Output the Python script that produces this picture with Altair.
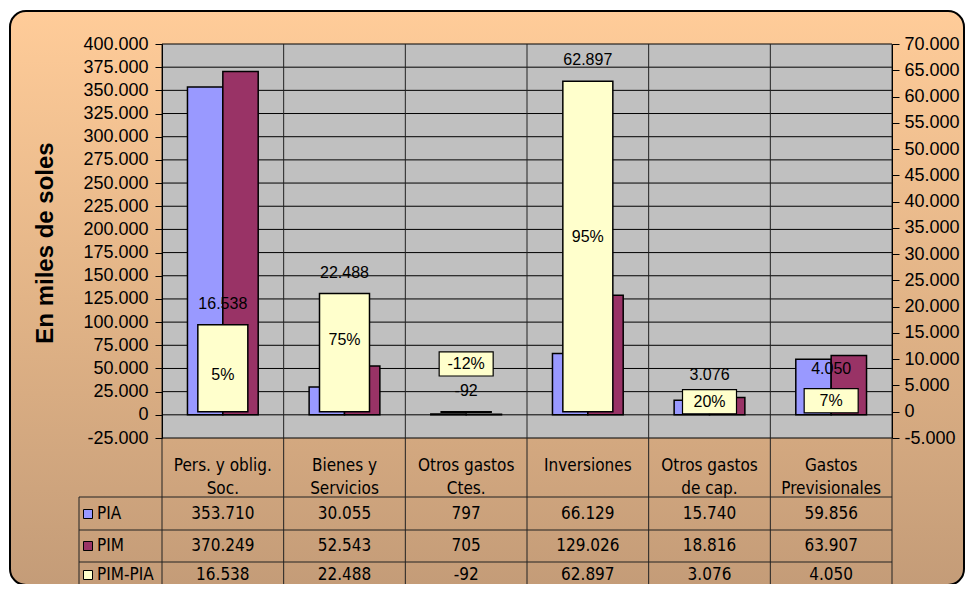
import altair as alt
import pandas as pd

# ---------------- data ----------------
categories = ["Pers. y oblig.\nSoc.", "Bienes y\nServicios", "Otros gastos\nCtes.",
              "Inversiones", "Otros gastos\nde cap.", "Gastos\nPrevisionales"]
pia = [353710, 30055, 797, 66129, 15740, 59856]
pim = [370249, 52543, 705, 129026, 18816, 63907]
diff = [16538, 22488, -92, 62897, 3076, 4050]          # PIM-PIA (secondary axis)
pct = [5, 75, -12, 95, 20, 7]                          # PIM-PIA as % of PIA
pct_at = [7000, 13700, 9100, 33300, 1900, 2100]        # where the % label sits (secondary units)
series_names = ["PIA", "PIM", "PIM-PIA"]
series_colors = ["#9999FF", "#993366", "#FFFFCC"]
left_ticks = list(range(-25000, 400001, 25000))
right_ticks = list(range(-5000, 70001, 5000))
axis_title = "En miles de soles"


def fmt(v):
    return f"{v:,}".replace(",", ".")


W, H = 730, 394
FONT = "Liberation Sans, Arial, sans-serif"
NARROW = "Liberation Sans Narrow, Arial Narrow, DejaVu Sans Condensed, Liberation Sans"

df = pd.DataFrame({"cat": categories, "PIA": pia, "PIM": pim, "diff": diff,
                   "pct": pct, "pct_at": pct_at})
df["pia_txt"] = [fmt(v) for v in pia]
df["pim_txt"] = [fmt(v) for v in pim]
df["diff_txt"] = [fmt(v) for v in diff]
df["pct_txt"] = [f"{p}%" for p in pct]
long = df.melt(id_vars=["cat"], value_vars=["PIA", "PIM"], var_name="series", value_name="value")

xs = alt.Scale(type="band", domain=categories, paddingInner=0, paddingOuter=0)
yL = alt.Scale(domain=[-25000, 400000], nice=False)
yR = alt.Scale(domain=[-5000, 70000], nice=False)
label_expr = "replace(replace(format(datum.value, ','), ',', '.'), '\u2212', '-')"

axis_common = dict(title=None, grid=False, tickSize=7, tickColor="black", tickWidth=1,
                   domainColor="black", domainWidth=1, labelFont=FONT, labelFontSize=18,
                   labelColor="black", labelOverlap=False, labelFlush=False, zindex=1,
                   labelExpr=label_expr)
left_axis = alt.Axis(orient="left", values=left_ticks, labelPadding=7, **axis_common)
right_axis = alt.Axis(orient="right", values=right_ticks, labelPadding=5, **axis_common)

X = alt.X("cat:N", scale=xs, axis=None)
one = pd.DataFrame({"a": [0]})
TB = 541  # bottom of the box / table (plot pixels)

# background box with gradient
bg = alt.Chart(one).mark_rect(
    cornerRadius=16, stroke="black", strokeWidth=2,
    fill=alt.Gradient(gradient="linear", x1=0, y1=0, x2=0, y2=1,
                      stops=[alt.GradientStop(color="#FFCC99", offset=0),
                             alt.GradientStop(color="#E2B487", offset=0.5),
                             alt.GradientStop(color="#C49C78", offset=1)])
).encode(x=alt.value(-152), x2=alt.value(802), y=alt.value(-33), y2=alt.value(TB))

plot_bg = alt.Chart(one).mark_rect(fill="#C0C0C0").encode(
    x=alt.value(0), x2=alt.value(W), y=alt.value(0), y2=alt.value(H))

hgrid = alt.Chart(pd.DataFrame({"t": left_ticks})).mark_rule(color="#000000", strokeWidth=1).encode(
    y=alt.Y("t:Q", scale=yL, axis=None), x=alt.value(0), x2=alt.value(W))

vgrid = alt.Chart(df).mark_rule(color="#222222", strokeWidth=1).encode(
    x=alt.X("cat:N", scale=xs, axis=None, bandPosition=0), y=alt.value(0), y2=alt.value(TB))
vright = alt.Chart(one).mark_rule(color="#222222", strokeWidth=1).encode(
    x=alt.value(W), y=alt.value(0), y2=alt.value(TB))

bars = alt.Chart(long).mark_bar(stroke="black", strokeWidth=1.5).encode(
    x=X,
    xOffset=alt.XOffset("series:N", scale=alt.Scale(domain=["PIA", "PIM"], paddingInner=0, paddingOuter=0.72)),
    y=alt.Y("value:Q", scale=yL, axis=left_axis),
    y2=alt.datum(0),
    color=alt.Color("series:N", scale=alt.Scale(domain=series_names[:2], range=series_colors[:2]), legend=None),
)

ybars = alt.Chart(df).mark_bar(size=50, fill=series_colors[2], stroke="black", strokeWidth=1.5).encode(
    x=X, y=alt.Y("diff:Q", scale=yR, axis=right_axis), y2=alt.datum(0))

val_labels = alt.Chart(df).transform_calculate(ytop="max(datum.diff, 0)").mark_text(
    font=FONT, fontSize=16, color="black", dy=-21, baseline="middle").encode(
    x=X, y=alt.Y("ytop:Q", scale=yR, axis=None), text="diff_txt:N")

pct_boxes = alt.Chart(df).transform_filter("abs(datum.diff) < 5000").transform_calculate(
    b0="datum.pct_at - 2300", b1="datum.pct_at + 2300").mark_bar(
    size=54, fill=series_colors[2], stroke="black", strokeWidth=1.2).encode(
    x=X, y=alt.Y("b0:Q", scale=yR, axis=None), y2="b1:Q")

pct_labels = alt.Chart(df).mark_text(font=FONT, fontSize=16, color="black", baseline="middle").encode(
    x=X, y=alt.Y("pct_at:Q", scale=yR, axis=None), text="pct_txt:N")

# ---------------- data table under the plot ----------------
header = alt.Chart(df).mark_text(font=NARROW, fontSize=17, lineHeight=23, lineBreak="\n",
                                 color="black", baseline="middle").encode(
    x=X, y=alt.value(422), text="cat:N")

table_layers = []
row_ys = [470, 502, 531]
row_specs = [("pia_txt", row_ys[0]), ("pim_txt", row_ys[1]), ("diff_txt", row_ys[2])]
for field, yy in row_specs:
    table_layers.append(alt.Chart(df).mark_text(font=NARROW, fontSize=17, color="black",
                                                baseline="middle").encode(
        x=X, y=alt.value(yy), text=f"{field}:N"))

for yy in [453, 486, 518]:
    table_layers.append(alt.Chart(one).mark_rule(color="#222222", strokeWidth=1).encode(
        x=alt.value(-83), x2=alt.value(W), y=alt.value(yy)))
table_layers.append(alt.Chart(one).mark_rule(color="#222222", strokeWidth=1).encode(
    x=alt.value(-83), y=alt.value(453), y2=alt.value(TB)))

leg_df = pd.DataFrame({"series": series_names})
for name, yy in zip(series_names, row_ys):
    sub = leg_df[leg_df.series == name]
    table_layers.append(alt.Chart(sub).mark_square(size=81, stroke="black", strokeWidth=1,
                                                   opacity=1, filled=True).encode(
        x=alt.value(-74), y=alt.value(yy),
        fill=alt.Fill("series:N", scale=alt.Scale(domain=series_names, range=series_colors), legend=None)))
    table_layers.append(alt.Chart(sub).mark_text(font=NARROW, fontSize=17, color="black",
                                                 align="left", baseline="middle").encode(
        x=alt.value(-65), y=alt.value(yy), text="series:N"))

ytitle = alt.Chart(pd.DataFrame({"t": [axis_title]})).mark_text(
    angle=270, font=FONT, fontSize=24, fontWeight="bold", color="black", baseline="middle").encode(
    x=alt.value(-116), y=alt.value(199), text="t:N")

chart = alt.layer(
    bg, plot_bg, hgrid, vgrid, vright, bars, ybars, val_labels, pct_boxes, pct_labels,
    header, *table_layers, ytitle
).resolve_scale(y="independent", color="independent", fill="independent").properties(
    width=W, height=H,
    autosize=alt.AutoSizeParams(type="none"),
    padding={"left": 154, "top": 36, "right": 74, "bottom": 146},
    background="white",
).configure_view(stroke=None)

chart.save("out.html", embed_options={"renderer": "svg", "actions": False})
